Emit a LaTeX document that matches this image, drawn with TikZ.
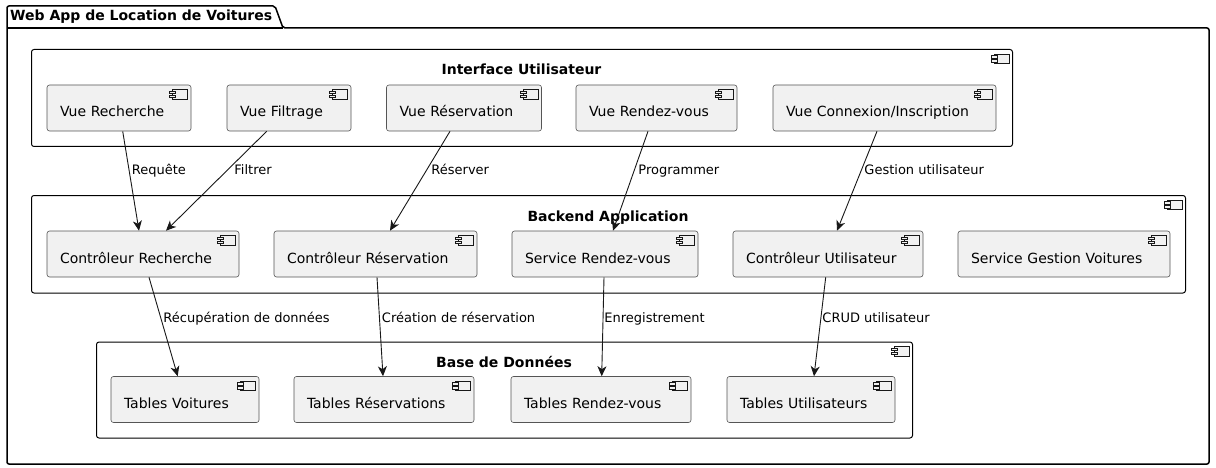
\documentclass[tikz,border=0pt]{standalone}
\usepackage{fontspec}
\setmainfont{DejaVu Sans}
\usetikzlibrary{arrows.meta}
\definecolor{compfill}{HTML}{F1F1F1}
\definecolor{ink}{HTML}{181818}
\definecolor{compline}{HTML}{555555}
\tikzset{
  comp/.style={draw=compline, line width=0.6pt, fill=compfill, rounded corners=2.5pt,
    minimum height=46pt, inner xsep=13pt, inner ysep=0pt, align=left,
    text height=21pt, text depth=3pt, font=\fontsize{14}{16}\selectfont},
  box/.style={draw=black, line width=1pt, fill=white, rounded corners=2.5pt,
    anchor=north west, inner sep=0pt},
  pkg/.style={draw=black, line width=1.5pt, fill=white, line join=round},
  icon/.style={draw=ink, line width=0.5pt, fill=compfill},
  ttl/.style={font=\bfseries\fontsize{14}{16}\selectfont, anchor=base, inner sep=0pt},
  lbl/.style={font=\fontsize{13}{15}\selectfont, anchor=base west, inner sep=0pt},
  arr/.style={draw=ink, line width=0.9pt, -{Stealth[length=10pt,width=9pt,inset=3pt]}}
}
\newcommand\mkicon[1]{%
  \draw[icon] ([xshift=-19pt,yshift=-5pt]#1.north east) rectangle ++(15pt,-9.5pt);
  \draw[icon] ([xshift=-22pt,yshift=-6.5pt]#1.north east) rectangle ++(6pt,-2.5pt);
  \draw[icon] ([xshift=-22pt,yshift=-10.5pt]#1.north east) rectangle ++(6pt,-2.5pt);
}
\newcommand\mkcomp[5]{%
  \pgfmathsetmacro\twid{#4-26}%
  \node[comp, text width=\twid pt, minimum width=#4pt] (#1) at (#2,#3) {#5};
  \mkicon{#1}
}
\begin{document}
\begin{tikzpicture}[x=1pt,y=-1pt]
\useasboundingbox (0,0) rectangle (1216,468);
% package
\draw[pkg, rounded corners=2pt] (7,464) -- (7,6) -- (275,6) -- (283,28) -- (1209,28) -- (1209,464) -- cycle;
\draw[pkg] (7,28) -- (283,28);
\node[ttl, anchor=base west] (pkgtitle) at (10,21) {Web App de Location de Voitures};

% containers
\node[box, minimum width=981pt, minimum height=97pt] (ui) at (31,49) {};
\mkicon{ui}
\node[ttl] (uit) at (521.5,75) {Interface Utilisateur};
\node[box, minimum width=1154pt, minimum height=97.5pt] (be) at (31,195) {};
\mkicon{be}
\node[ttl] (bet) at (608,221) {Backend Application};
\node[box, minimum width=816pt, minimum height=96pt] (db) at (96,341.5) {};
\mkicon{db}
\node[ttl] (dbt) at (504,367.5) {Base de Donn\'ees};

% UI components
\mkcomp{vrech}{119}{108}{144}{Vue Recherche}
\mkcomp{vfilt}{289}{108}{124}{Vue Filtrage}
\mkcomp{vres}{464}{108}{155}{Vue Réservation}
\mkcomp{vrdv}{656.5}{108}{161}{Vue Rendez-vous}
\mkcomp{vcon}{884.5}{108}{223}{Vue Connexion/Inscription}

% Backend components
\mkcomp{crech}{143}{254}{192}{Contrôleur Recherche}
\mkcomp{cres}{375.5}{254}{203}{Contrôleur Réservation}
\mkcomp{srdv}{605}{254}{186}{Service Rendez-vous}
\mkcomp{cutil}{828}{254}{190}{Contrôleur Utilisateur}
\mkcomp{sgv}{1064}{254}{212}{Service Gestion Voitures}

% DB components
\mkcomp{tv}{185}{399.5}{148}{Tables Voitures}
\mkcomp{tr}{384}{399.5}{180}{Tables Réservations}
\mkcomp{trdv}{601}{399.5}{180}{Tables Rendez-vous}
\mkcomp{tu}{811}{399.5}{168}{Tables Utilisateurs}

% connectors
\draw[arr] ([xshift=3.7pt]vrech.south) -- ([xshift=-4pt]crech.north) node[lbl] at (131.5,175) {Requête};
\draw[arr] ([xshift=-22.3pt]vfilt.south) -- ([xshift=23pt]crech.north) node[lbl] at (234,175) {Filtrer};
\draw[arr] ([xshift=-14pt]vres.south) -- ([xshift=14.5pt]cres.north) node[lbl] at (431,175) {Réserver};
\draw[arr] ([xshift=-8.5pt]vrdv.south) -- ([xshift=8pt]srdv.north) node[lbl] at (638,175) {Programmer};
\draw[arr] ([xshift=-7.5pt]vcon.south) -- ([xshift=9pt]cutil.north) node[lbl] at (864,175) {Gestion utilisateur};

\draw[arr] ([xshift=6pt]crech.south) -- ([xshift=-7.3pt]tv.north) node[lbl] at (163,322) {Récupération de données};
\draw[arr] ([xshift=1.5pt]cres.south) -- ([xshift=-1pt]tr.north) node[lbl] at (381.5,322) {Création de réservation};
\draw[arr] ([xshift=-1pt]srdv.south) -- ([xshift=0.7pt]trdv.north) node[lbl] at (604,322) {Enregistrement};
\draw[arr] ([xshift=-2.3pt]cutil.south) -- ([xshift=3pt]tu.north) node[lbl] at (822,322) {CRUD utilisateur};
\end{tikzpicture}
\end{document}
